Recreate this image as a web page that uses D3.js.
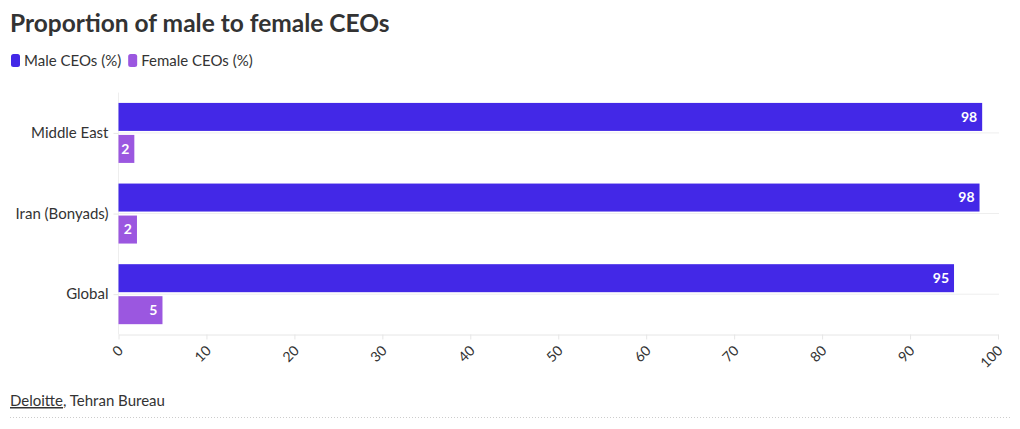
<!DOCTYPE html>
<html><head><meta charset="utf-8">
<script src="https://cdn.jsdelivr.net/npm/d3@7"></script>
<style>
body{margin:0;background:#fff;}
svg{display:block;font-family:"Lato","Noto Sans",sans-serif;}
</style></head>
<body><svg id="c" width="1020" height="429"></svg>
<script>
const categories = ["Middle East", "Iran (Bonyads)", "Global"];
const seriesNames = ["Male CEOs (%)", "Female CEOs (%)"];
const maleValues = [98.2, 97.9, 95];
const femaleValues = [1.8, 2.1, 5];
const labelValues = [[98, 2], [98, 2], [95, 5]];
const xTicks = [0,10,20,30,40,50,60,70,80,90,100];
const colors = ["#4328E7", "#9B57E0"];
const FONT = "Lato, 'Noto Sans', sans-serif";

const svg = d3.select("#c");
const pLeft = 118.5, pRight = 998, pTop = 92.6, pBottom = 334.5;

svg.append("text").attr("x", 10).attr("y", 32.3).text("Proportion of male to female CEOs")
  .attr("font-size", 24.5).attr("font-weight", 700).attr("fill", "#333");

// legend
const lg = svg.append("g");
let lx = 11;
seriesNames.forEach((s, i) => {
  lg.append("rect").attr("x", lx).attr("y", 54).attr("width", 9).attr("height", 13).attr("rx", 2.5).attr("fill", colors[i]);
  const t = lg.append("text").attr("x", lx + 13).attr("y", 66).text(s).attr("font-size", 15).attr("fill", "#333");
  lx += 13 + t.node().getComputedTextLength() + 7;
});

const x = d3.scaleLinear().domain([0, 100]).range([pLeft, pRight]);
const y0 = d3.scaleBand().domain(categories).range([pTop, pBottom]).padding(0);
const y1 = d3.scaleBand().domain(seriesNames).range([-30, 30]).paddingInner(0.125);

// gridlines at category centers
svg.append("g").selectAll("line").data(categories).join("line")
  .attr("x1", pLeft).attr("x2", pRight + 1)
  .attr("y1", d => y0(d) + y0.bandwidth()/2).attr("y2", d => y0(d) + y0.bandwidth()/2)
  .attr("stroke", "#eee").attr("stroke-width", 1);

// y axis
const ya = svg.append("g").attr("transform", `translate(${pLeft},0)`)
  .call(d3.axisLeft(d3.scalePoint().domain(categories).range([y0(categories[0]) + y0.bandwidth()/2, y0(categories[2]) + y0.bandwidth()/2])).tickSize(5).tickPadding(5))
  .attr("font-family", FONT);
ya.select(".domain").remove();
ya.append("line").attr("x1", 0).attr("x2", 0).attr("y1", pTop).attr("y2", pBottom).attr("stroke", "#eee");
ya.selectAll(".tick line").attr("stroke", "#e6e6e6");
ya.selectAll(".tick text").attr("font-size", 15).attr("fill", "#333");

// x axis
const xa = svg.append("g").attr("transform", `translate(0,${pBottom})`)
  .call(d3.axisBottom(x).tickValues(xTicks).tickSize(5).tickSizeOuter(0))
  .attr("font-family", FONT);
xa.select(".domain").attr("stroke", "#e6e6e6");
xa.selectAll(".tick line").attr("stroke", "#e6e6e6");
xa.selectAll(".tick text").attr("font-size", 14).attr("fill", "#333")
  .attr("text-anchor", "end").attr("y", 0).attr("dy", 0)
  .attr("transform", "translate(5,17) rotate(-45)");

// bars
const data = categories.map((c, i) => ({c, vals: [maleValues[i], femaleValues[i]], labels: labelValues[i]}));
const g = svg.append("g").selectAll("g").data(data).join("g")
  .attr("transform", d => `translate(0,${y0(d.c) + y0.bandwidth()/2})`);
g.selectAll("rect").data(d => d.vals.map((v, j) => ({v, s: seriesNames[j], j}))).join("rect")
  .attr("x", x(0)).attr("y", d => y1(d.s)).attr("width", d => x(d.v) - x(0)).attr("height", y1.bandwidth())
  .attr("fill", d => colors[d.j]);
g.selectAll("text").data(d => d.vals.map((v, j) => ({v, s: seriesNames[j], lab: d.labels[j]}))).join("text")
  .attr("x", d => x(d.v) - 5).attr("y", d => y1(d.s) + y1.bandwidth()/2).attr("dy", "0.35em")
  .attr("text-anchor", "end").attr("font-size", 14).attr("font-weight", 700).attr("fill", "#fff")
  .text(d => d.lab);

// source
const src = svg.append("text").attr("x", 10).attr("y", 406).attr("font-size", 15).attr("fill", "#333");
src.append("tspan").text("Deloitte").attr("text-decoration", "underline");
src.append("tspan").text(", Tehran Bureau");
svg.append("line").attr("x1", 10).attr("x2", 1010).attr("y1", 417.5).attr("y2", 417.5)
  .attr("stroke", "#ccc").attr("stroke-dasharray", "1,2");
</script></body></html>
